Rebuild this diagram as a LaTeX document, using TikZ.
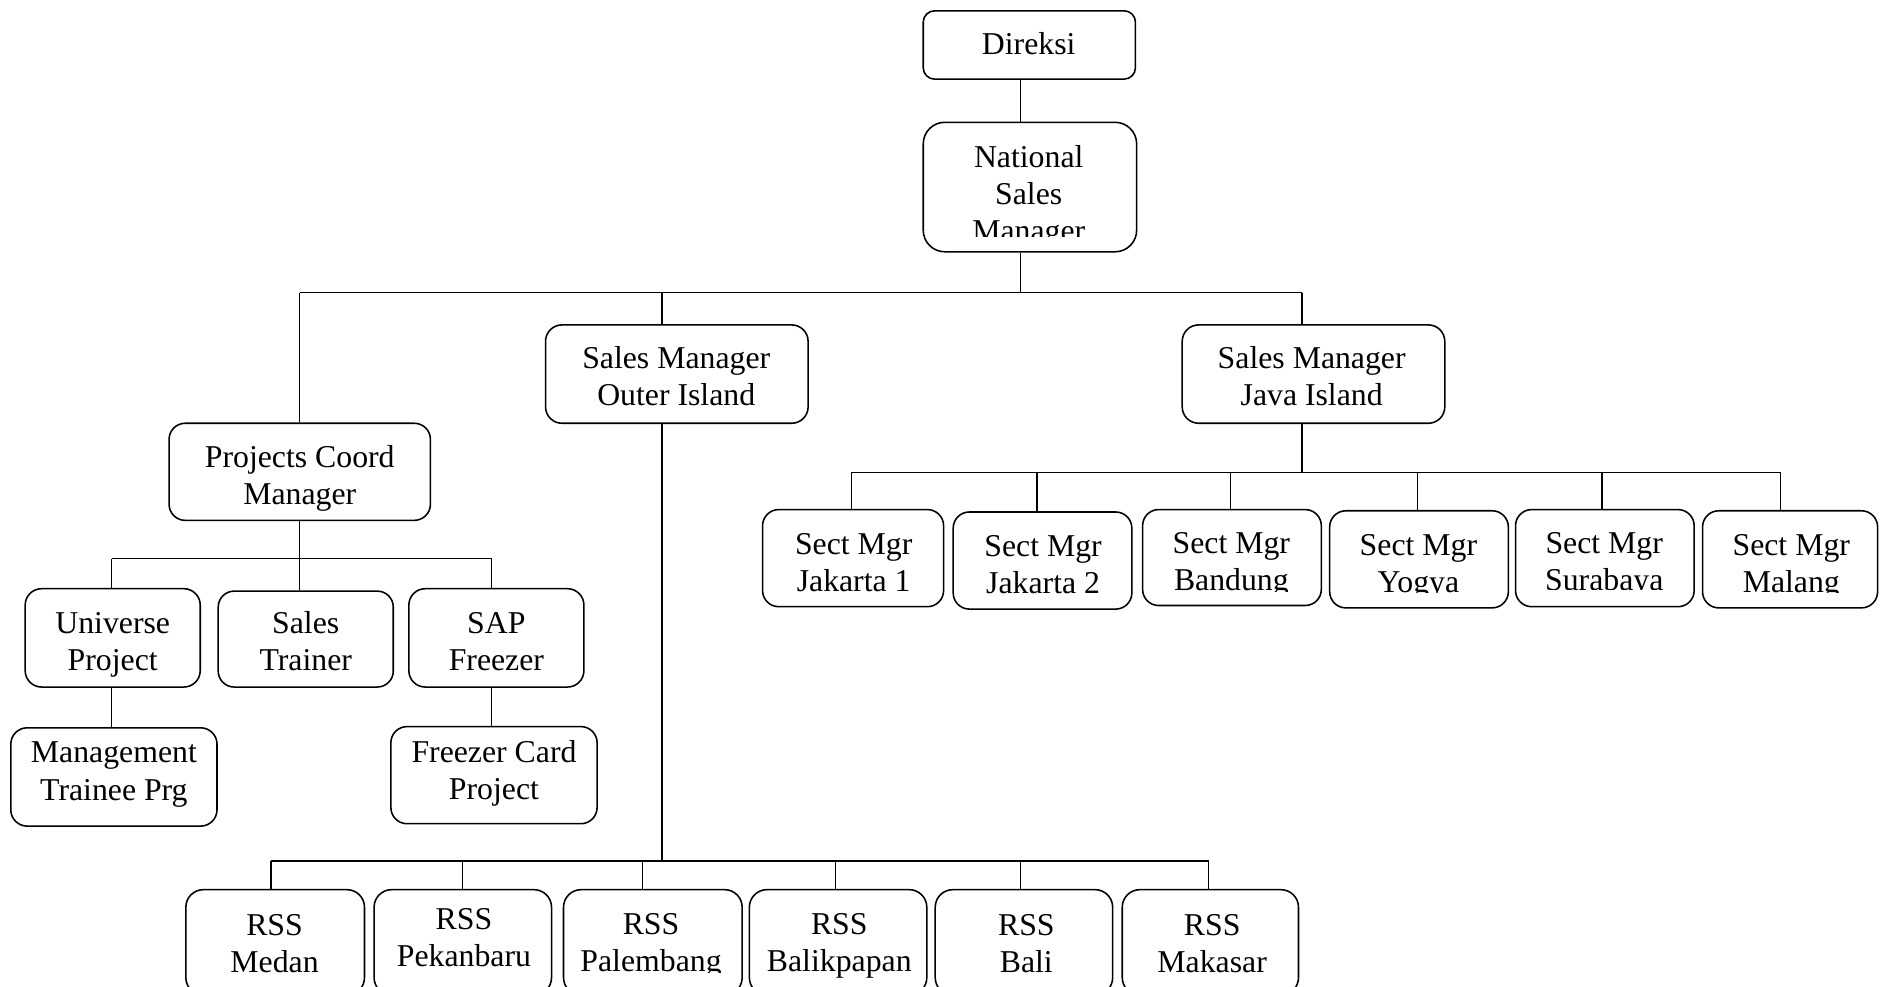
\documentclass[tikz,border=0pt]{standalone}
\usepackage{fontspec}
\setmainfont{Liberation Serif}
\newcommand\orgbox[9]{%
  \pgfmathsetmacro\obW{#4-#2}%
  \pgfmathsetmacro\obH{#5-#3}%
  \pgfmathsetmacro\obR{min(\obW,\obH)/6}%
  \node[orgframe, rounded corners=\obR pt, minimum width=\obW pt, minimum height=\obH pt] (#1) at ({(#2+#4)/2},{(#3+#5)/2}) {};
  \begin{scope}
    \clip (#2,#3) rectangle (#4,#8);
    \node[orgtext] (#1-t) at (#6,#7) {#9};
  \end{scope}}
\begin{document}
\begin{tikzpicture}[x=1pt,y=-1pt,
  orgframe/.style={draw, line width=1.3pt, inner sep=0pt},
  orgtext/.style={inner sep=0pt, align=center, font=\fontsize{26.5}{31}\selectfont},
  conn/.style={line width=1.1pt}]
\fill[white] (0,0) rectangle (1568,823);
\clip (0,0) rectangle (1568,823);

% top
\orgbox{direksi}{770}{9}{947}{66}{858}{36}{66}{Direksi}
\orgbox{nsm}{770}{102}{948}{210}{858}{164}{197}{National\\Sales\\Manager}
% level 2
\orgbox{pcm}{141}{353}{359}{434}{250}{399}{434}{Projects Coord\\Manager}
\orgbox{outer}{455}{271}{674}{353}{564}{314}{353}{Sales Manager\\Outer Island}
\orgbox{java}{986}{271}{1205}{353}{1094}{314}{353}{Sales Manager\\Java Island}
% projects children
\orgbox{universe}{21}{491}{167}{573}{94}{538}{573}{Universe\\Project}
\orgbox{trainer}{182}{493}{328}{573}{255}{535}{573}{Sales\\Trainer}
\orgbox{sap}{341}{491}{487}{573}{414}{535}{573}{SAP\\Freezer}
\orgbox{mtp}{9}{607}{181}{689}{95}{646}{689}{Management\\Trainee Prg}
\orgbox{fcp}{326}{606}{498}{687}{412}{645}{687}{Freezer Card\\Project}
% java children
\orgbox{jak1}{636}{425}{787}{506}{712}{469}{506}{Sect Mgr\\Jakarta 1}
\orgbox{jak2}{795}{427}{944}{508}{870}{471}{508}{Sect Mgr\\Jakarta 2}
\orgbox{bdg}{953}{425}{1102}{505}{1027}{471}{493}{Sect Mgr\\Bandung}
\orgbox{ygy}{1109}{426}{1258}{507}{1183}{473}{494}{Sect Mgr\\Yogya}
\orgbox{sby}{1264}{425}{1413}{506}{1338}{471}{492}{Sect Mgr\\Surabaya}
\orgbox{mlg}{1420}{426}{1566}{507}{1494}{473}{494}{Sect Mgr\\Malang}
% outer children
\orgbox{medan}{155}{742}{304}{830}{229}{787}{830}{RSS\\Medan}
\orgbox{pku}{312}{742}{460}{830}{387}{782}{830}{RSS\\Pekanbaru}
\orgbox{plg}{470}{742}{619}{830}{543}{789}{811}{RSS\\Palembang}
\orgbox{bpn}{625}{742}{773}{830}{700}{789}{830}{RSS\\Balikpapan}
\orgbox{bali}{780}{742}{928}{830}{856}{787}{830}{RSS\\Bali}
\orgbox{mks}{936}{742}{1083}{830}{1011}{787}{830}{RSS\\Makasar}

% junction coordinates
\coordinate (tA) at (851,244);
\coordinate (tL) at (250,244);
\coordinate (tM) at (552,244);
\coordinate (tR) at (1086,244);
\coordinate (pA) at (250,466);
\coordinate (pL) at (93,466);
\coordinate (pR) at (410,466);
\coordinate (jA) at (1086,394);
\coordinate (j1) at (710,394);
\coordinate (j2) at (865,394);
\coordinate (j3) at (1026,394);
\coordinate (j4) at (1182,394);
\coordinate (j5) at (1336,394);
\coordinate (j6) at (1485,394);
\coordinate (oA) at (552,718);
\coordinate (o1) at (226,718);
\coordinate (o2) at (386,718);
\coordinate (o3) at (536,718);
\coordinate (o4) at (697,718);
\coordinate (o5) at (851,718);
\coordinate (o6) at (1008,718);

% connectors
\draw[conn] (direksi.south -| tA) -- (nsm.north -| tA);
\draw[conn] (nsm.south -| tA) -- (tA);
\draw[conn] (tL) -- (tR);
\draw[conn] (tL) -- (pcm.north -| tL);
\draw[conn] (tM) -- (outer.north -| tM);
\draw[conn] (tR) -- (java.north -| tR);

\draw[conn] (pcm.south -| pA) -- (pA);
\draw[conn] (pL) -- (pR);
\draw[conn] (pL) -- (universe.north -| pL);
\draw[conn] (pA) -- (trainer.north -| pA);
\draw[conn] (pR) -- (sap.north -| pR);
\draw[conn] (universe.south -| pL) -- (mtp.north -| pL);
\draw[conn] (sap.south -| pR) -- (fcp.north -| pR);

\draw[conn] (java.south -| jA) -- (jA);
\draw[conn] (j1) -- (j6);
\draw[conn] (j1) -- (jak1.north -| j1);
\draw[conn] (j2) -- (jak2.north -| j2);
\draw[conn] (j3) -- (bdg.north -| j3);
\draw[conn] (j4) -- (ygy.north -| j4);
\draw[conn] (j5) -- (sby.north -| j5);
\draw[conn] (j6) -- (mlg.north -| j6);

\draw[conn] (outer.south -| oA) -- (oA);
\draw[conn] (o1) -- (o6);
\draw[conn] (o1) -- (medan.north -| o1);
\draw[conn] (o2) -- (pku.north -| o2);
\draw[conn] (o3) -- (plg.north -| o3);
\draw[conn] (o4) -- (bpn.north -| o4);
\draw[conn] (o5) -- (bali.north -| o5);
\draw[conn] (o6) -- (mks.north -| o6);
\end{tikzpicture}
\end{document}
